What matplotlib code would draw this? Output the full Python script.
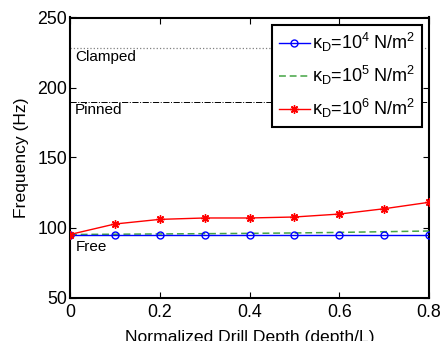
import matplotlib.pyplot as plt

depth = [0, 0.1, 0.2, 0.3, 0.4, 0.5, 0.6, 0.7, 0.8]
freq_k4 = [95, 95, 95, 95, 95, 95, 95, 95, 95]
freq_k5 = [95, 95.2, 95.4, 95.6, 95.8, 96.1, 96.5, 97.0, 97.5]
freq_k6 = [95, 102.5, 105.8, 106.8, 106.8, 107.5, 109.6, 113.4, 118]
clamped = 228
pinned = 190
labels = [r'$\kappa_D$=10$^4$ N/m$^2$', r'$\kappa_D$=10$^5$ N/m$^2$', r'$\kappa_D$=10$^6$ N/m$^2$']

plt.rcParams['font.family'] = ['Liberation Sans', 'DejaVu Sans']
plt.rcParams['mathtext.fontset'] = 'custom'
plt.rcParams['mathtext.rm'] = 'Liberation Sans'
plt.rcParams['mathtext.it'] = 'Liberation Sans'

fig = plt.figure(figsize=(4.41, 3.41), dpi=100)
ax = fig.add_axes([70/441, 1-297.5/341, 359/441, 280/341])

# reference boundary conditions
ax.axhline(clamped, color='gray', linestyle=':', linewidth=0.9)
ax.axhline(pinned, color='black', linestyle='-.', linewidth=0.7)

ax.plot(depth, freq_k4, color='blue', marker='o', mfc='none', ms=5, lw=1, label=labels[0], zorder=4)
ax.plot(depth, freq_k5, color='#44a444', linestyle='--', lw=1.1, dashes=(4.5, 2.5), label=labels[1], zorder=3)
ax.plot(depth, freq_k6, color='red', marker=(8, 2, 0), ms=6, mew=1.0, lw=1, label=labels[2], zorder=5)

ax.text(0.011, 221.5, 'Clamped', fontsize=11, va='center')
ax.text(0.011, 184, 'Pinned', fontsize=11, va='center')
ax.text(0.013, 86, 'Free', fontsize=11, va='center')

ax.set_xlim(0, 0.8)
ax.set_ylim(50, 250)
ax.set_xticks([0, 0.2, 0.4, 0.6, 0.8])
ax.set_xticklabels(['0', '0.2', '0.4', '0.6', '0.8'])
ax.set_yticks([50, 100, 150, 200, 250])
ax.tick_params(direction='in', top=True, right=True, labelsize=12.8, length=4, pad=2)
ax.tick_params(axis='x', pad=5)
for s in ax.spines.values():
    s.set_linewidth(1.5)

ax.set_xlabel('Normalized Drill Depth (depth/L)', fontsize=12.6, labelpad=6)
ax.set_ylabel('Frequency (Hz)', fontsize=12.6, labelpad=6)

leg = ax.legend(loc='upper right', fontsize=13, frameon=True, fancybox=False,
                edgecolor='black', framealpha=1, handlelength=1.75, handletextpad=0.1,
                borderaxespad=0.4, labelspacing=0.55, borderpad=0.35)
leg.get_frame().set_linewidth(1.5)

fig.savefig('out.png', dpi=100)
